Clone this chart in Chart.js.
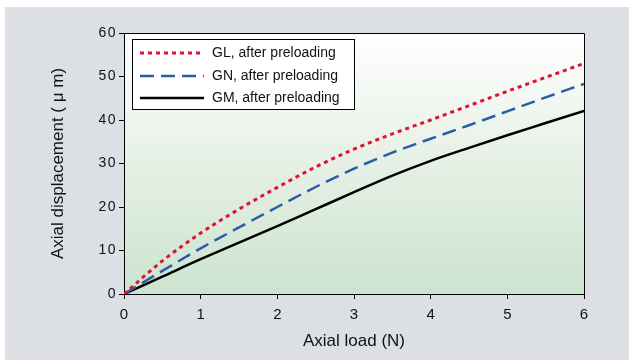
<!DOCTYPE html>
<html>
<head>
<meta charset="utf-8">
<script src="https://cdn.jsdelivr.net/npm/chart.js@4"></script>
<style>
  html, body { margin: 0; padding: 0; background: #ffffff; }
  #wrap { width: 629px; height: 361px; }
</style>
</head>
<body>
<div id="wrap"><canvas id="lineChart"></canvas></div>
<script>
const loads = [0, 0.5, 1, 1.5, 2, 2.5, 3, 3.5, 4, 4.5, 5, 5.5, 6];
const glValues = [0, 7.6, 14, 19.5, 24.5, 29.2, 33.3, 36.8, 40, 43.3, 46.6, 49.8, 53];
const gnValues = [0, 5.3, 10.5, 15.3, 20, 24.6, 28.8, 32.5, 35.7, 38.8, 42, 45.2, 48.3];
const gmValues = [0, 4, 8, 11.8, 15.6, 19.5, 23.4, 27.2, 30.6, 33.6, 36.5, 39.3, 42.1];
const seriesNames = ['GL, after preloading', 'GN, after preloading', 'GM, after preloading'];
const xTicks = [0, 1, 2, 3, 4, 5, 6];
const yTicks = [0, 10, 20, 30, 40, 50, 60];

function toPoints(vals) {
    return loads.map((x, i) => ({ x: x, y: vals[i] }));
}

const fontFamily = '"Liberation Sans", Arial, sans-serif';

const backdrop = {
    id: 'backdrop',
    beforeDraw(chart) {
        const ctx = chart.ctx;
        const a = chart.chartArea;
        ctx.save();
        ctx.fillStyle = '#dcdfe4';
        ctx.fillRect(5, 7, chart.width - 5, chart.height - 8);
        const g = ctx.createLinearGradient(0, a.top, 0, a.bottom);
        g.addColorStop(0, '#ffffff');
        g.addColorStop(0.5, '#e6f0e5');
        g.addColorStop(1, '#cbe4cf');
        ctx.fillStyle = g;
        ctx.fillRect(a.left, a.top, a.right - a.left, a.bottom - a.top);
        ctx.restore();
    },
    afterDatasetsDraw(chart) {
        const ctx = chart.ctx;
        const a = chart.chartArea;
        ctx.save();
        // frame top + right
        ctx.strokeStyle = '#000';
        ctx.lineWidth = 1;
        ctx.beginPath();
        ctx.moveTo(a.left, a.top + 0.5);
        ctx.lineTo(a.right + 0.5, a.top + 0.5);
        ctx.lineTo(a.right + 0.5, a.bottom);
        ctx.stroke();

        // legend box
        ctx.fillStyle = '#ffffff';
        ctx.fillRect(132, 39, 222, 70);
        ctx.strokeRect(132.5, 39.5, 222, 70);
        const rows = [53, 76, 98];
        chart.data.datasets.forEach((ds, i) => {
            ctx.strokeStyle = ds.borderColor;
            ctx.lineWidth = ds.borderWidth;
            ctx.setLineDash(ds.borderDash || []);
            ctx.beginPath();
            ctx.moveTo(140, rows[i]);
            ctx.lineTo(204, rows[i]);
            ctx.stroke();
            ctx.setLineDash([]);
            ctx.fillStyle = '#111';
            ctx.font = '14px ' + fontFamily;
            ctx.textBaseline = 'middle';
            ctx.textAlign = 'left';
            ctx.fillText(ds.label, 212, rows[i]);
        });
        ctx.restore();
        // y tick labels are drawn after this (ticks z: 1)
        ctx.letterSpacing = '1.5px';
    },
    afterDraw(chart) {
        chart.ctx.letterSpacing = '0px';
    }
};

new Chart(document.getElementById('lineChart'), {
    type: 'line',
    data: {
        datasets: [{
            label: seriesNames[0],
            data: toPoints(glValues),
            borderColor: '#e3102f',
            borderWidth: 3,
            borderDash: [4, 4],
            pointRadius: 0,
            cubicInterpolationMode: 'monotone'
        }, {
            label: seriesNames[1],
            data: toPoints(gnValues),
            borderColor: '#2c5ca8',
            borderWidth: 2.5,
            borderDash: [14, 7],
            pointRadius: 0,
            cubicInterpolationMode: 'monotone'
        }, {
            label: seriesNames[2],
            data: toPoints(gmValues),
            borderColor: '#000000',
            borderWidth: 2.5,
            pointRadius: 0,
            cubicInterpolationMode: 'monotone'
        }]
    },
    options: {
        responsive: true,
        maintainAspectRatio: false,
        animation: false,
        layout: { padding: { left: 0, right: 45, top: 33, bottom: 0 } },
        scales: {
            x: {
                type: 'linear',
                min: 0,
                max: 6,
                afterBuildTicks(scale) { scale.ticks = xTicks.map(v => ({ value: v })); },
                afterFit(scale) { scale.height = 67; },
                grid: { drawOnChartArea: false, drawTicks: true, tickLength: 5, tickColor: '#000', z: -1 },
                border: { color: '#000', width: 1 },
                ticks: {
                    color: '#111',
                    font: { family: fontFamily, size: 15 },
                    padding: 7,
                    maxRotation: 0
                },
                title: {
                    display: true,
                    text: 'Axial load (N)',
                    color: '#111',
                    font: { family: fontFamily, size: 17 },
                    padding: { top: 0, bottom: 9 }
                }
            },
            y: {
                min: 0,
                max: 60,
                afterBuildTicks(scale) { scale.ticks = yTicks.map(v => ({ value: v })); },
                afterFit(scale) { scale.width = 124; },
                grid: { drawOnChartArea: false, drawTicks: true, tickLength: 5, tickColor: '#000', z: -1 },
                border: { color: '#000', width: 1 },
                ticks: {
                    color: '#111',
                    font: { family: fontFamily, size: 14 },
                    padding: 2,
                    z: 1
                },
                title: {
                    display: true,
                    text: 'Axial displacement ( μ m)',
                    color: '#111',
                    font: { family: fontFamily, size: 17 },
                    padding: { top: 48, bottom: 0 }
                }
            }
        },
        plugins: {
            legend: { display: false },
            tooltip: { enabled: false }
        }
    },
    plugins: [backdrop]
});
</script>
</body>
</html>
